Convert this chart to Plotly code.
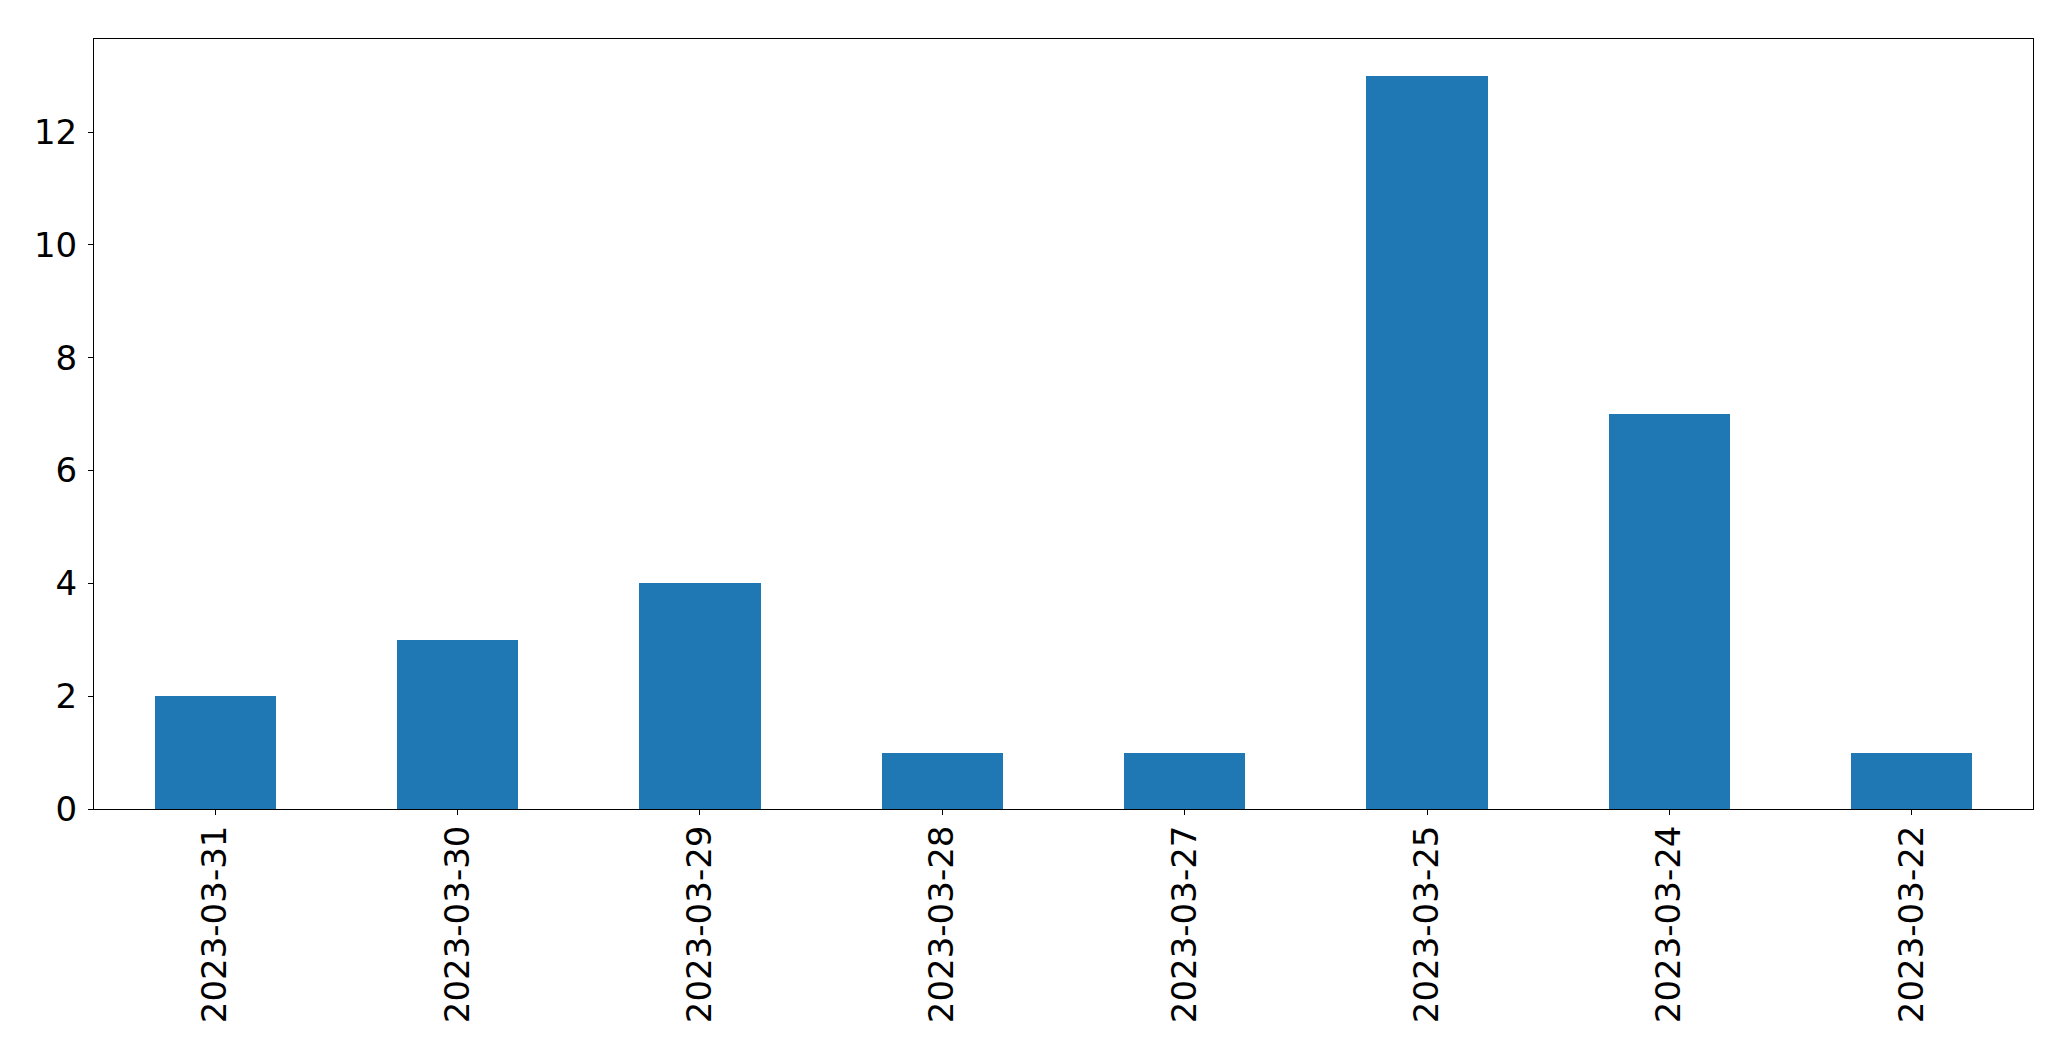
import plotly.graph_objects as go

dates = ["2023-03-31", "2023-03-30", "2023-03-29", "2023-03-28",
         "2023-03-27", "2023-03-25", "2023-03-24", "2023-03-22"]
counts = [2, 3, 4, 1, 1, 13, 7, 1]
y_ticks = [0, 2, 4, 6, 8, 10, 12]

fig = go.Figure(go.Bar(x=dates, y=counts, width=0.5,
                       marker=dict(color="#1f77b4", line=dict(width=0))))

axis_common = dict(showline=True, linecolor="black", linewidth=1, mirror=True,
                   ticks="outside", ticklen=5, tickwidth=1, tickcolor="black",
                   showgrid=False, zeroline=False, automargin=False,
                   tickfont=dict(family="DejaVu Sans", size=34, color="black"))

fig.update_xaxes(type="category", range=[-0.5, 7.5], tickangle=-90,
                 categoryorder="array", categoryarray=dates,
                 ticklabelstandoff=-3, **axis_common)
fig.update_yaxes(range=[0, 13.65], tickvals=y_ticks, ticklabelstandoff=4, **axis_common)

# page body has an 8px margin, so the figure is offset by 8px
fig.update_layout(width=2063, height=1053, autosize=False,
                  margin=dict(l=86, r=38, t=31, b=252, pad=0),
                  plot_bgcolor="white", paper_bgcolor="white",
                  showlegend=False, bargap=0)

fig.write_html("out.html")
